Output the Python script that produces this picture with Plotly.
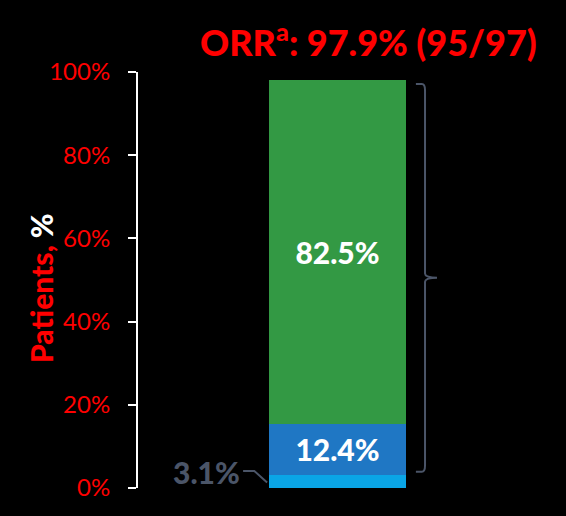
import plotly.graph_objects as go

categories = ["ORR"]
segment_names = ["3.1%", "12.4%", "82.5%"]
segment_values = [3.1, 12.4, 82.5]
segment_colors = ["#0aa5e6", "#1f77c4", "#339944"]
inside_labels = [None, "12.4%", "82.5%"]
tick_vals = [0, 20, 40, 60, 80, 100]
tick_text = ["0%", "20%", "40%", "60%", "80%", "100%"]
title_text = "ORR<sup>a</sup>: 97.9% (95/97)"

RED = "#ff0000"
GREY = "#4b5568"
BAR_W = 0.3425
HEAVY = 900

fig = go.Figure()
for name, val, col, lab in zip(segment_names, segment_values, segment_colors, inside_labels):
    kw = {}
    if lab:
        kw = dict(text=[lab], textposition="inside", insidetextanchor="middle",
                  textfont=dict(family="Lato", size=30, color="white", weight=HEAVY))
    fig.add_trace(go.Bar(
        x=[0], y=[val], name=name, width=BAR_W,
        marker=dict(color=col, line=dict(width=0)),
        hoverinfo="skip", showlegend=False, **kw,
    ))

cum = []
s = 0
for v in segment_values:
    s += v
    cum.append(s)

# bracket over responders (segments 2 and 3)
y_lo = segment_values[0] + 0.8
y_hi = cum[-1] - 0.9
y_mid = (segment_values[0] + cum[-1]) / 2
x0, x1, xp = 0.196, 0.2188, 0.2488
path = (f"M {x0},{y_hi} L {x1-0.008},{y_hi} Q {x1},{y_hi} {x1},{y_hi-1.5} "
        f"L {x1},{y_mid+1.0} Q {x1},{y_mid} {xp},{y_mid} Q {x1},{y_mid} {x1},{y_mid-1.0} "
        f"L {x1},{y_lo+1.5} Q {x1},{y_lo} {x1-0.008},{y_lo} L {x0},{y_lo}")
fig.add_shape(type="path", path=path, xref="x", yref="y",
              line=dict(color=GREY, width=2))

# connector for 3.1%
fig.add_shape(type="path", xref="x", yref="y",
              path=f"M -0.236,4.1 L -0.208,4.1 L -0.176,1.3",
              line=dict(color=GREY, width=2))
fig.add_annotation(x=-0.24, y=3.9, xref="x", yref="y", text="3.1%",
                   showarrow=False, xanchor="right", yanchor="middle",
                   font=dict(family="Lato", size=30, color=GREY, weight=HEAVY))

fig.add_annotation(x=539, y=40, xref="paper", yref="paper", text=title_text,
                   showarrow=False, xanchor="right", yanchor="middle",
                   font=dict(family="Lato", size=36, color=RED, weight=HEAVY))
fig.add_annotation(x=41, y=288, xref="paper", yref="paper",
                   text="Patients, <span style='color:white'>%</span>",
                   showarrow=False, textangle=-90, xanchor="center", yanchor="middle",
                   font=dict(family="Lato", size=30, color=RED, weight=HEAVY))

fig.update_layout(
    width=566, height=516, barmode="stack",
    paper_bgcolor="black", plot_bgcolor="black",
    margin=dict(l=138, r=28, t=72, b=28),
)
# position paper annotations in pixel terms
W, H = 566 - 138 - 28, 516 - 72 - 28
for a in fig.layout.annotations:
    if a.xref == "paper":
        a.x = (a.x - 138) / W
        a.y = 1 - (a.y - 72) / H

fig.update_xaxes(range=[-0.49875, 0.50125], visible=False, showgrid=False, zeroline=False)
fig.update_yaxes(range=[0, 100], tickvals=tick_vals, ticktext=tick_text,
                 showgrid=False, zeroline=False, showline=True, linecolor="white", linewidth=2,
                 ticks="outside", ticklen=8, tickwidth=2, tickcolor="white",
                 tickfont=dict(family="Lato", size=24, color=RED), ticklabelstandoff=13)
fig.write_html("out.html", config={"displayModeBar": False})

with open("out.html", encoding="utf-8") as f:
    html = f.read()
html = html.replace("<body>", "<body style=\"margin:0;background:black;\">", 1)
with open("out.html", "w", encoding="utf-8") as f:
    f.write(html)
